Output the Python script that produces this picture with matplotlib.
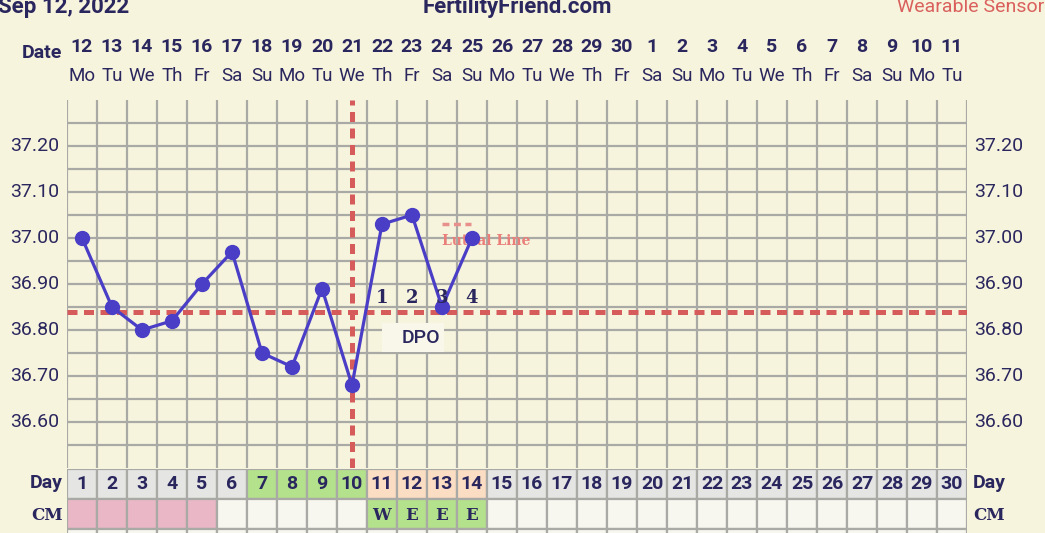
import matplotlib
matplotlib.use('Agg')
import matplotlib.pyplot as plt
from matplotlib.transforms import blended_transform_factory
from matplotlib.patches import Rectangle

plt.rcParams['font.family'] = ['Roboto', 'DejaVu Sans']

# chart data
cycle_days = list(range(1, 31))
dates = [str(d) for d in range(12, 31)] + [str(d) for d in range(1, 12)]
weekdays = ['Mo', 'Tu', 'We', 'Th', 'Fr', 'Sa', 'Su'] * 4 + ['Mo', 'Tu']
temp_days = list(range(1, 15))
temps = [37.00, 36.85, 36.80, 36.82, 36.90, 36.97, 36.75,
         36.72, 36.89, 36.68, 37.03, 37.05, 36.85, 37.00]
coverline = 36.84
ovulation_day = 10
dpo_days = [11, 12, 13, 14]
dpo_labels = ['1', '2', '3', '4']
luteal_value = 37.03
cm_days = [11, 12, 13, 14]
cm_labels = ['W', 'E', 'E', 'E']
pink_cm_days = [1, 2, 3, 4, 5]
green_days = [7, 8, 9, 10]
peach_days = [11, 12, 13, 14]
ytick_vals = [36.60, 36.70, 36.80, 36.90, 37.00, 37.10, 37.20]

BG = '#f7f4de'
NAVY = '#2a265e'
GRID = '#a9a9a5'
BLUE = '#4a3ec6'
RED = '#d65c5c'

W, H = 1045, 533
fig = plt.figure(figsize=(W / 100, H / 100), dpi=100, facecolor=BG)


def fy(py):
    return 1 - py / H


def fx(px):
    return px / W


# main temperature axes
ax = fig.add_axes([fx(67), fy(468), fx(967) - fx(67), fy(100) - fy(468)])
ax.set_facecolor(BG)
ax.set_xlim(0.5, 30.5)
ax.set_ylim(36.5, 37.3)
for s in ax.spines.values():
    s.set_visible(False)
ax.set_xticks([])
ax.set_yticks([])

for k in range(31):
    ax.axvline(0.5 + k, color=GRID, lw=1.6, zorder=1)
for i in range(1, 16):
    ax.axhline(36.5 + 0.05 * i, color=GRID, lw=1.6, zorder=1)

ax.axhline(coverline, color=RED, lw=3.6, ls=(0, (2.0, 1.3)), zorder=3)
ax.axvline(ovulation_day, color=RED, lw=3.6, ls=(0, (2.0, 1.3)), zorder=3)

ax.plot(temp_days, temps, color=BLUE, lw=2.3, marker='o', ms=10, zorder=5)

# DPO numbers and box
for d, lab in zip(dpo_days, dpo_labels):
    ax.text(d, 36.87, lab, ha='center', va='center', fontsize=13,
            fontweight='bold', family='DejaVu Serif', color=NAVY, zorder=6)
ax.add_patch(Rectangle((11.0, 36.752), 2.07, 0.063, facecolor='#f8f7ea',
                       edgecolor='none', zorder=2))
ax.text(12.3, 36.783, 'DPO', ha='center', va='center', fontsize=14,
        fontweight='medium', color=NAVY, zorder=6)

# luteal line label
ax.plot([13.0, 13.97], [luteal_value, luteal_value], color='#e8918c', lw=2.5,
        ls=(0, (2.0, 1.3)), zorder=4)
ax.text(12.99, 36.994, 'Luteal Line', ha='left', va='center', fontsize=10,
        fontweight='bold', family='DejaVu Serif', color='#ea7f7a', zorder=4)

# y tick labels on both sides
for v in ytick_vals:
    ax.text(0.25, v, f'{v:.2f}', ha='right', va='center', fontsize=14,
            color=NAVY, clip_on=False)
    ax.text(30.75, v, f'{v:.2f}', ha='left', va='center', fontsize=14,
            color=NAVY, clip_on=False)

# header
tr = blended_transform_factory(ax.transData, fig.transFigure)
for d, dt, wd in zip(cycle_days, dates, weekdays):
    fig.text(d, fy(47), dt, transform=tr, ha='center', va='center',
             fontsize=14, fontweight='bold', color=NAVY)
    fig.text(d, fy(76), wd, transform=tr, ha='center', va='center',
             fontsize=13.5, color=NAVY)
fig.text(fx(62), fy(53), 'Date', ha='right', va='center', fontsize=14,
         fontweight='bold', color=NAVY)
fig.text(fx(-2), fy(7), 'Sep 12, 2022', ha='left', va='center', fontsize=16,
         fontweight='bold', color=NAVY)
fig.text(fx(517), fy(7), 'FertilityFriend.com', ha='center', va='center',
         fontsize=16, fontweight='bold', color=NAVY)
fig.text(fx(897), fy(7), 'Wearable Sensor', ha='left', va='center',
         fontsize=14, color='#d9605c')

# table rows below chart
tab = fig.add_axes([fx(67), 0, fx(967) - fx(67), fy(469)])
tab.set_xlim(0.5, 30.5)
tab.set_ylim(H - 469, 0)
tab.axis('off')
tab.set_facecolor('none')
row_top = [0, 30, 60]
for d in cycle_days:
    if d in green_days:
        c = '#b4e28c'
    elif d in peach_days:
        c = '#fbddc3'
    else:
        c = '#e5e5e3'
    tab.add_patch(Rectangle((d - 0.5, row_top[0]), 1, 30, facecolor=c,
                            edgecolor=GRID, lw=1.6))
    if d in pink_cm_days:
        c2 = '#e9b7c5'
    elif d in cm_days:
        c2 = '#b4e28c'
    else:
        c2 = '#f7f7ef'
    tab.add_patch(Rectangle((d - 0.5, row_top[1]), 1, 30, facecolor=c2,
                            edgecolor=GRID, lw=1.6))
    tab.add_patch(Rectangle((d - 0.5, row_top[2]), 1, 30, facecolor='#f7f7ef',
                            edgecolor=GRID, lw=1.6))
    tab.text(d, 15, str(d), ha='center', va='center', fontsize=14,
             fontweight='bold', color=NAVY)
for d, lab in zip(cm_days, cm_labels):
    tab.text(d, 46, lab, ha='center', va='center', fontsize=12,
             fontweight='bold', family='DejaVu Serif', color=NAVY)

tab.text(0.35, 14, 'Day', ha='right', va='center', fontsize=14,
         fontweight='bold', color=NAVY, clip_on=False)
tab.text(0.35, 46, 'CM', ha='right', va='center', fontsize=12,
         fontweight='bold', family='DejaVu Serif', color=NAVY, clip_on=False)
tab.text(30.7, 14, 'Day', ha='left', va='center', fontsize=14,
         fontweight='bold', color=NAVY, clip_on=False)
tab.text(30.7, 46, 'CM', ha='left', va='center', fontsize=12,
         fontweight='bold', family='DejaVu Serif', color=NAVY, clip_on=False)

fig.savefig('out.png', dpi=100, facecolor=BG)
